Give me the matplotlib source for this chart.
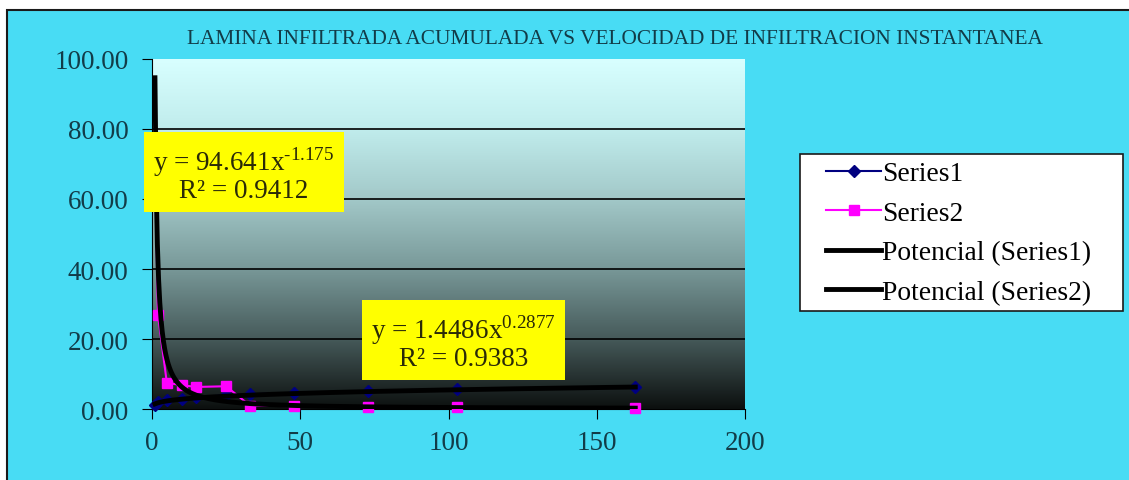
import matplotlib
matplotlib.use("Agg")
import matplotlib.pyplot as plt
import numpy as np
from matplotlib.patches import Rectangle

# tiempo acumulado (min)
tiempo = [1, 2, 5, 10, 15, 25, 33, 48, 73, 103, 163]
# lamina infiltrada acumulada (cm)
lamina = [1.2, 1.9, 2.5, 3.0, 3.4, 3.9, 4.2, 4.6, 5.1, 5.6, 6.2]
# velocidad de infiltracion instantanea (cm/h)
velocidad = [72.0, 27.0, 7.5, 6.8, 6.3, 6.5, 1.0, 0.8, 0.6, 0.5, 0.3]

# coeficientes de las lineas de tendencia potencial
a1, b1, r1 = 1.4486, 0.2877, 0.9383
a2, b2, r2 = 94.641, -1.175, 0.9412

yticks = [0, 20, 40, 60, 80, 100]
xticks = [0, 50, 100, 150, 200]

fondo = "#48dcf4"
texto = "#123c48"
serif = ["Liberation Serif", "DejaVu Serif"]

plt.rcParams["mathtext.fontset"] = "custom"
plt.rcParams["mathtext.rm"] = "Liberation Serif"

W, H = 1129, 481
fig = plt.figure(figsize=(W / 100, H / 100), dpi=100, facecolor="white")
fig.patches.append(Rectangle((7 / W, -0.1), 1.2, 1.1 - 11 / H,
                             transform=fig.transFigure, facecolor=fondo,
                             edgecolor="#1a1a1a", linewidth=1.5, zorder=-10))

ax = fig.add_axes([152 / W, 1 - 410 / H, 593 / W, 350 / H])

# degradado del area de trazado (claro arriba, oscuro abajo)
grad = np.linspace(0, 1, 256).reshape(-1, 1)
cmap = matplotlib.colors.LinearSegmentedColormap.from_list(
    "fondo", ["#d8ffff", "#c0ecec", "#a2c8c8", "#789898", "#465a5a", "#0c100f"])
ax.imshow(grad, extent=[0, 200, 0, 100], origin="upper", aspect="auto",
          cmap=cmap, zorder=0)

ax.set_xlim(0, 200)
ax.set_ylim(0, 100)
for v in yticks[1:-1]:
    ax.axhline(v, color="black", linewidth=1.2, zorder=1)

xs = np.linspace(1, 163, 400)
ax.plot(tiempo, lamina, color="#000080", marker="D", markersize=6,
        linewidth=1.5, label="Series1", zorder=3, clip_on=False)
ax.plot(tiempo, velocidad, color="#ff00ff", marker="s", markersize=7,
        linewidth=1.5, label="Series2", zorder=3, clip_on=False)
ax.plot(xs, a1 * xs ** b1, color="black", linewidth=3.5,
        label="Potencial (Series1)", zorder=4)
ax.plot(xs, a2 * xs ** b2, color="black", linewidth=3.5,
        label="Potencial (Series2)", zorder=4)

ax.set_xticks(xticks)
ax.set_yticks(yticks)
ax.set_yticklabels([f"{v:.2f}" for v in yticks])
for lab in ax.get_xticklabels() + ax.get_yticklabels():
    lab.set_family(serif)
    lab.set_fontsize(19.5)
    lab.set_color(texto)
ax.tick_params(axis="y", direction="out", length=7, color="black", pad=10)
ax.tick_params(axis="x", direction="out", length=7, color="black", pad=8)
for side in ["top", "right"]:
    ax.spines[side].set_visible(False)
ax.spines["left"].set_color("black")
ax.spines["bottom"].set_color("black")


def ecuacion(a, b, r):
    exp = str(b).replace("-", "\u2010")
    return f"y = {a}x$^{{\\mathrm{{{exp}}}}}$\nR² = {r}"


caja = dict(boxstyle="square,pad=0.35", facecolor="#ffff00", edgecolor="none")
ax.text(31, 67.4, ecuacion(a2, b2, r2), ha="center", va="center",
        fontsize=19.5, family=serif, color="#2a2a08", bbox=caja, zorder=6,
        linespacing=1.0)
ax.text(105, 19.4, ecuacion(a1, b1, r1), ha="center", va="center",
        fontsize=19.5, family=serif, color="#2a2a08", bbox=caja, zorder=6,
        linespacing=1.0)

fig.text(615 / W, 1 - 40 / H,
         "LAMINA INFILTRADA ACUMULADA VS VELOCIDAD DE INFILTRACION INSTANTANEA",
         ha="center", va="center", fontsize=15.4, family=serif, color=texto)

# recuadro de la leyenda
ax.add_patch(Rectangle((800 / W, 1 - 312 / H), 323 / W, 157 / H,
                       transform=fig.transFigure, facecolor="white",
                       edgecolor="#1a1a1a", linewidth=1.2, zorder=7,
                       clip_on=False))
leg = ax.legend(loc="upper left", bbox_to_anchor=(826 / W, 1 - 162 / H),
                bbox_transform=fig.transFigure, frameon=False,
                prop={"family": serif, "size": 19.8}, handlelength=2.0,
                handletextpad=0.05, borderpad=0, labelspacing=0.52,
                borderaxespad=0)
leg.set_zorder(8)

fig.savefig("out.png", dpi=100, facecolor="white")
